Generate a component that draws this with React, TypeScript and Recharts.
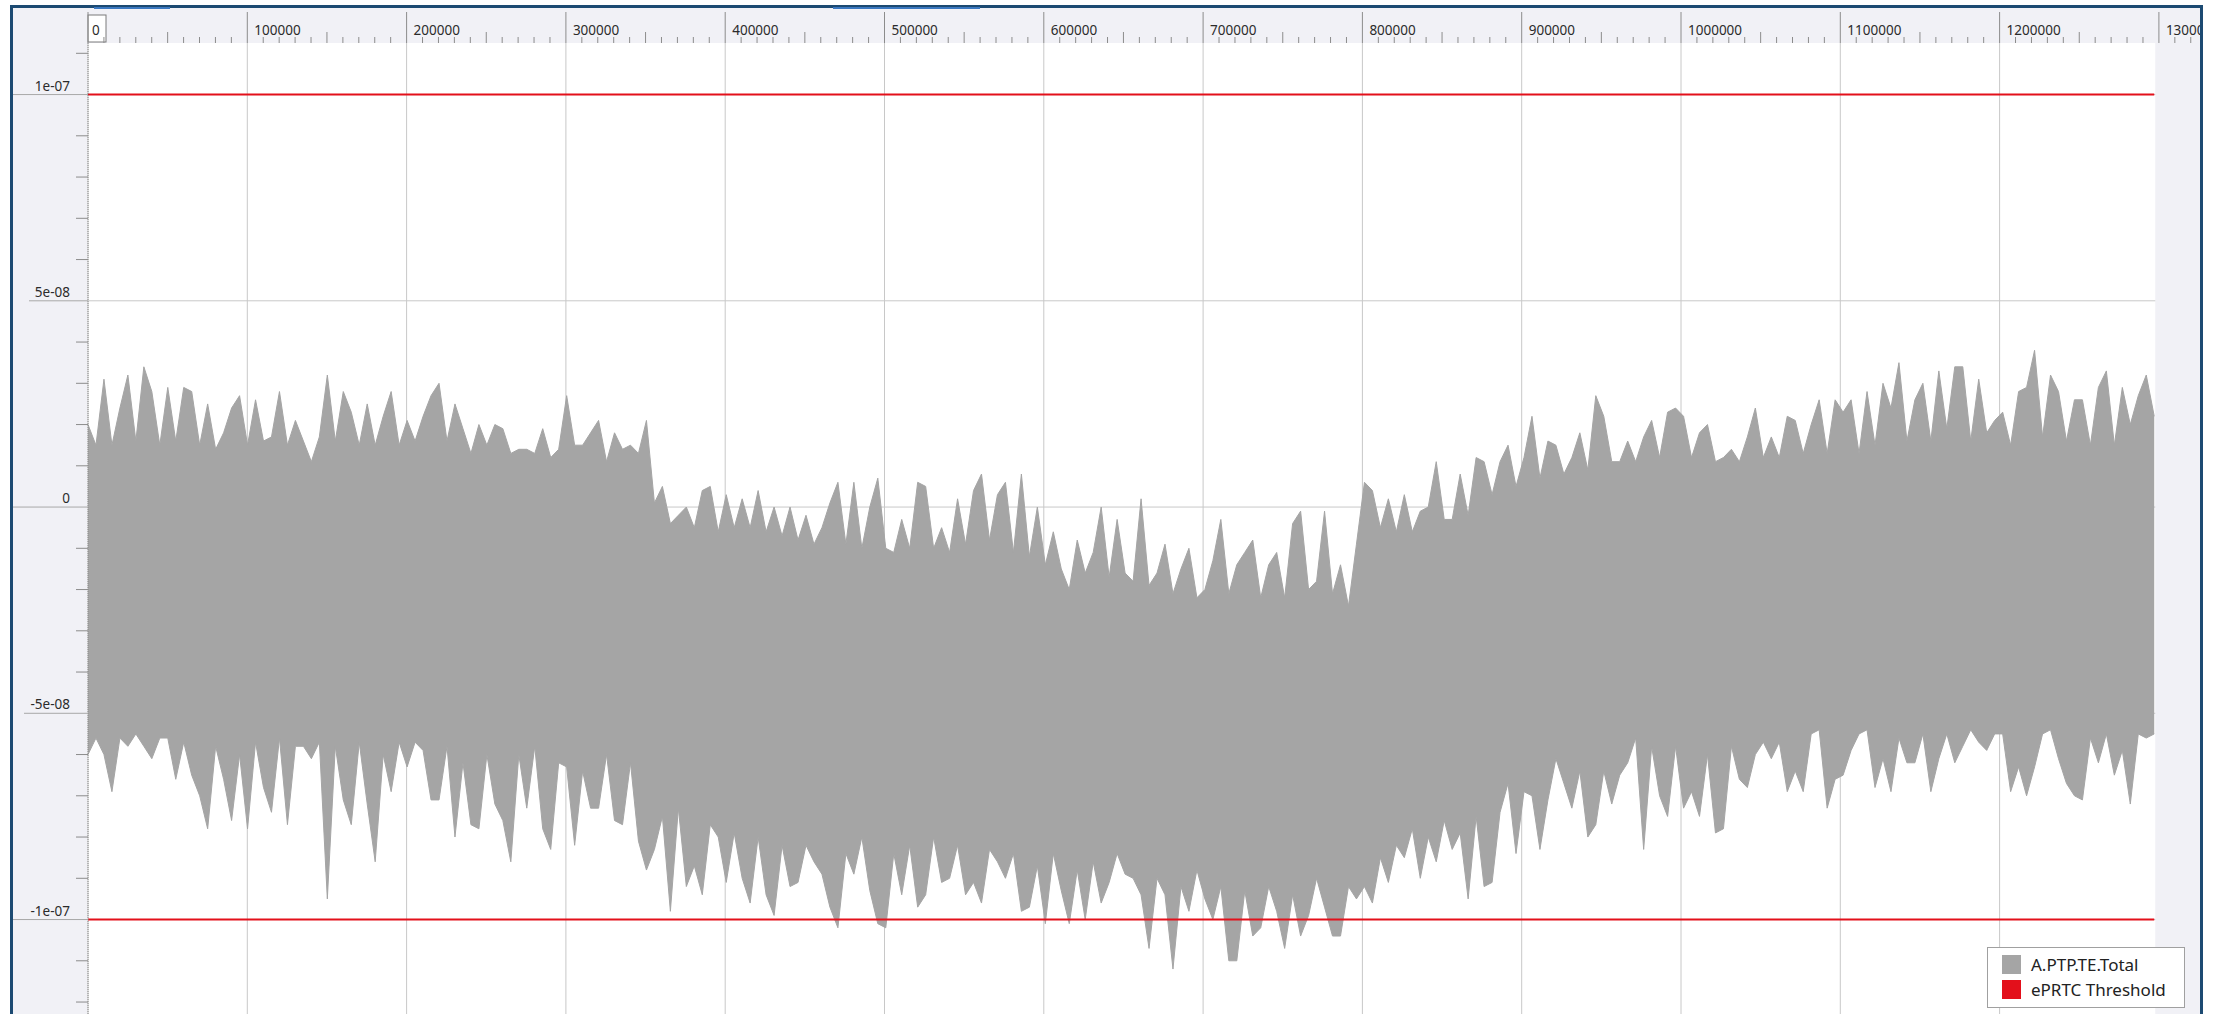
import React from 'react';
import {
  ComposedChart,
  Area,
  Line,
  XAxis,
  YAxis,
  CartesianGrid,
  ReferenceArea,
  ReferenceLine,
  Legend,
} from 'recharts';

// sample spacing of the trace (x units); last sample sits at the end of the capture
const STEP = 5008;

// upper envelope of A.PTP.TE.Total, in ns (1e-09)
const TE_HIGH = [
  20, 15, 31, 15, 24, 32, 16, 34, 28, 15,
  29, 16, 29, 28, 15, 25, 14, 18, 24, 27,
  15, 26, 16, 17, 28, 15, 21, 16, 11, 17,
  32, 16, 28, 23, 15, 25, 15, 22, 28, 15,
  21, 16, 22, 27, 30, 16, 25, 19, 13, 20,
  15, 20, 19, 13, 14, 14, 13, 19, 12, 14,
  27, 15, 15, 18, 21, 11, 18, 14, 15, 13,
  21, 1, 5, -4, -2, 0, -5, 4, 5, -6,
  3, -5, 2, -5, 4, -6, 0, -7, 0, -8,
  -2, -9, -5, 1, 6, -9, 6, -10, 0, 7,
  -10, -11, -3, -10, 6, 5, -10, -5, -11, 2,
  -9, 4, 8, -8, 3, 6, -11, 8, -12, 0,
  -14, -6, -15, -20, -8, -16, -11, 0, -17, -3,
  -16, -18, 2, -19, -16, -9, -21, -15, -10, -22,
  -20, -13, -3, -21, -14, -11, -8, -22, -14, -11,
  -22, -4, -1, -20, -18, -1, -21, -14, -24, -9,
  6, 4, -5, 2, -6, 3, -6, -1, 0, 11,
  -3, -3, 8, -2, 12, 11, 3, 11, 15, 5,
  12, 22, 7, 16, 15, 8, 12, 18, 9, 27,
  22, 11, 11, 16, 11, 17, 21, 12, 23, 24,
  22, 12, 18, 20, 11, 12, 14, 11, 17, 24,
  12, 17, 12, 22, 21, 13, 20, 26, 13, 26,
  23, 26, 13, 28, 15, 30, 24, 35, 16, 26,
  30, 16, 33, 19, 34, 34, 16, 31, 18, 21,
  23, 15, 28, 29, 38, 17, 32, 28, 16, 26,
  26, 15, 29, 33, 15, 29, 20, 27, 32, 22,
];

// lower envelope of A.PTP.TE.Total, in ns
const TE_LOW = [
  -60, -56, -60, -69, -56, -58, -55, -58, -61, -56,
  -56, -66, -57, -65, -70, -78, -58, -66, -76, -60,
  -78, -57, -68, -74, -56, -77, -58, -58, -61, -57,
  -95, -58, -71, -77, -57, -72, -86, -60, -69, -57,
  -63, -57, -59, -71, -71, -58, -80, -62, -77, -78,
  -60, -72, -76, -86, -60, -73, -58, -78, -83, -62,
  -63, -82, -64, -73, -73, -60, -76, -77, -62, -81,
  -88, -83, -75, -98, -73, -92, -87, -94, -77, -80,
  -91, -79, -90, -96, -80, -94, -99, -82, -92, -91,
  -82, -86, -89, -97, -102, -84, -89, -80, -93, -101,
  -102, -84, -94, -82, -97, -94, -80, -91, -90, -82,
  -94, -91, -96, -83, -86, -90, -84, -98, -97, -87,
  -101, -84, -93, -101, -88, -100, -86, -96, -91, -84,
  -89, -90, -94, -107, -90, -94, -112, -92, -98, -88,
  -95, -100, -92, -110, -110, -93, -104, -102, -92, -98,
  -107, -94, -104, -99, -90, -97, -104, -104, -92, -95,
  -92, -96, -85, -91, -82, -85, -78, -90, -80, -86,
  -76, -83, -79, -95, -75, -92, -91, -74, -67, -84,
  -69, -70, -83, -71, -61, -67, -73, -64, -80, -77,
  -64, -72, -65, -62, -56, -83, -58, -70, -75, -58,
  -73, -69, -75, -60, -79, -78, -58, -66, -68, -60,
  -57, -61, -57, -69, -64, -69, -55, -54, -73, -66,
  -65, -59, -55, -54, -68, -61, -69, -56, -62, -62,
  -55, -69, -61, -55, -62, -58, -54, -57, -59, -55,
  -55, -69, -63, -70, -63, -55, -54, -61, -67, -70,
  -71, -56, -62, -55, -65, -59, -72, -55, -56, -55,
];

const THRESHOLD = 100; // ePRTC limit, ns

const X_MAJOR = [
  0, 100000, 200000, 300000, 400000, 500000, 600000,
  700000, 800000, 900000, 1000000, 1100000, 1200000, 1300000,
];
const Y_LABELS = [
  { value: 100, label: '1e-07' },
  { value: 50, label: '5e-08' },
  { value: 0, label: '0' },
  { value: -50, label: '-5e-08' },
  { value: -100, label: '-1e-07' },
];

const X_END = 1297700;
const X_MAX = 1325800;
const Y_MIN = -122.9;
const Y_MAX = 112.5;

const X_TICKS: number[] = [];
for (let v = 0; v <= 1320000; v += 10000) X_TICKS.push(v);
const Y_TICKS: number[] = [];
for (let v = 110; v >= -120; v -= 10) Y_TICKS.push(v);

const data = TE_HIGH.map((hi, i) => ({
  x: i * STEP,
  te: [TE_LOW[i], hi],
  thrHi: THRESHOLD,
  thrLo: -THRESHOLD,
}));

const FONT = "'Segoe UI', 'Noto Sans', sans-serif";
const CHART_W = 2187;
const CHART_H = 1006;
const AXIS_TOP = 35;
const AXIS_LEFT = 75;
const BAND = '#f1f1f6';
const TICK = '#8c8c8c';

const XTick = (props: any) => {
  const { x, payload } = props;
  const v = payload.value;
  if (v % 100000 === 0) {
    return (
      <g>
        {v === 0 && (
          <rect x={x} y={7} width={18} height={27} fill="#fff" stroke="#7a7a7a" />
        )}
        <line x1={x} x2={x} y1={4} y2={AXIS_TOP} stroke={TICK} />
        <text x={x + (v === 0 ? 4 : 7)} y={27} fontSize={13.5} fontFamily={FONT} fill="#2b2b2b">
          {v}
        </text>
      </g>
    );
  }
  const len = v % 50000 === 0 ? 11 : 6;
  return <line x1={x} x2={x} y1={AXIS_TOP - len} y2={AXIS_TOP} stroke={TICK} />;
};

const YTick = (props: any) => {
  const { y, payload } = props;
  const v = payload.value;
  const lab = Y_LABELS.find((l) => l.value === v);
  if (lab) {
    const start = v === 50 ? 16 : v === -50 ? 11 : 0;
    return (
      <g>
        <line x1={start} x2={AXIS_LEFT} y1={y} y2={y} stroke="#a8a8a8" />
        <text x={57} y={y - 4} textAnchor="end" fontSize={13.5} fontFamily={FONT} fill="#2b2b2b">
          {lab.label}
        </text>
      </g>
    );
  }
  return <line x1={AXIS_LEFT - 12} x2={AXIS_LEFT} y1={y} y2={y} stroke={TICK} />;
};

const renderLegend = (props: any) => {
  const items = (props.payload || []).filter((p: any) => p.type !== 'none');
  return (
    <div
      style={{
        width: 198,
        height: 61,
        boxSizing: 'border-box',
        border: '1px solid #a0a0a0',
        background: '#fff',
        padding: '4px 0 0 14px',
        fontFamily: FONT,
      }}
    >
      {items.map((it: any) => (
        <div key={it.value} style={{ display: 'flex', alignItems: 'center', height: 25 }}>
          <span style={{ width: 19, height: 19, background: it.color, marginRight: 10 }} />
          <span style={{ fontSize: 17, color: '#222', whiteSpace: 'nowrap' }}>{it.value}</span>
        </div>
      ))}
    </div>
  );
};

export default function App() {
  return (
    <div
      style={{
        position: 'absolute',
        left: 0,
        top: 0,
        width: 2213,
        height: 1014,
        background: '#fff',
        overflow: 'hidden',
      }}
    >
      <div
        style={{
          position: 'absolute',
          left: 10,
          top: 5,
          width: CHART_W,
          height: 1020,
          border: '3px solid #1c4a72',
          background: BAND,
          overflow: 'hidden',
        }}
      >
        <ComposedChart
          width={CHART_W}
          height={CHART_H}
          data={data}
          margin={{ top: 0, right: 0, bottom: 0, left: 0 }}
        >
          <CartesianGrid
            stroke="#c8c8c8"
            fill="#ffffff"
            horizontalValues={Y_LABELS.map((l) => l.value)}
            verticalValues={X_MAJOR}
          />
          <ReferenceArea
            x1={X_END}
            x2={X_MAX}
            fill={BAND}
            fillOpacity={1}
            stroke="none"
            ifOverflow="hidden"
          />
          <XAxis
            dataKey="x"
            type="number"
            orientation="top"
            domain={[0, X_MAX]}
            ticks={X_TICKS}
            interval={0}
            height={AXIS_TOP}
            axisLine={false}
            tickLine={false}
            tick={XTick}
            allowDataOverflow
          />
          <YAxis
            type="number"
            domain={[Y_MIN, Y_MAX]}
            ticks={Y_TICKS}
            interval={0}
            width={AXIS_LEFT}
            axisLine={false}
            tickLine={false}
            tick={YTick}
            allowDataOverflow
          />
          <Area
            dataKey="te"
            name="A.PTP.TE.Total"
            type="linear"
            stroke="#a5a5a5"
            strokeWidth={1}
            fill="#a5a5a5"
            fillOpacity={1}
            dot={false}
            activeDot={false}
            isAnimationActive={false}
          />
          <Line
            dataKey="thrHi"
            name="ePRTC Threshold"
            stroke="#e3101b"
            strokeWidth={2}
            dot={false}
            activeDot={false}
            isAnimationActive={false}
          />
          <Line
            dataKey="thrLo"
            name="ePRTC Threshold"
            legendType="none"
            stroke="#e3101b"
            strokeWidth={2}
            dot={false}
            activeDot={false}
            isAnimationActive={false}
          />
          <ReferenceLine x={0} stroke="#8a8a8a" strokeDasharray="1 1" />
          <Legend
            content={renderLegend}
            layout="horizontal"
            verticalAlign="middle"
            align="center"
            wrapperStyle={{ left: 1974, top: 939, width: 198, height: 61 }}
          />
        </ComposedChart>
      </div>
      <div style={{ position: 'absolute', left: 94, top: 7, width: 76, height: 2, background: '#3b78c0' }} />
      <div style={{ position: 'absolute', left: 833, top: 7, width: 147, height: 2, background: '#3b78c0' }} />
    </div>
  );
}
